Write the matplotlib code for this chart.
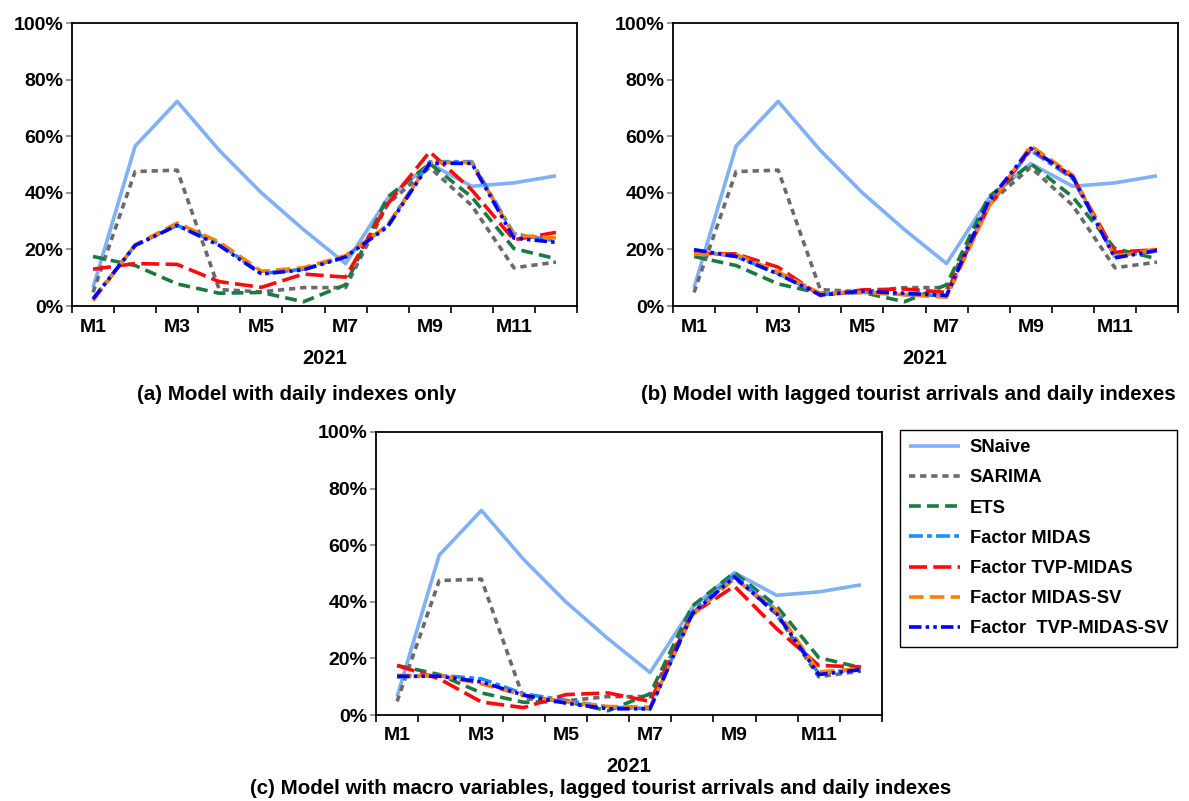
import matplotlib
matplotlib.use("Agg")
import matplotlib.pyplot as plt
import numpy as np

plt.rcParams['font.family'] = ['Liberation Sans', 'DejaVu Sans']
plt.rcParams['font.weight'] = 'bold'
plt.rcParams['lines.scale_dashes'] = False

# ---------------- data ----------------
months = ['M1', 'M2', 'M3', 'M4', 'M5', 'M6', 'M7', 'M8', 'M9', 'M10', 'M11', 'M12']
xtick_labels = ['M1', 'M3', 'M5', 'M7', 'M9', 'M11']
ytick_values = [0, 20, 40, 60, 80, 100]
year_label = '2021'

snaive = [6.5, 56.5, 72.3, 55.0, 40.0, 27.0, 15.0, 38.0, 50.3, 42.3, 43.5, 46.0]
sarima = [4.8, 47.5, 48.0, 5.8, 5.0, 6.5, 6.5, 36.0, 49.0, 35.5, 13.5, 15.5]
ets = [17.5, 14.3, 7.8, 4.5, 4.8, 1.5, 7.5, 38.5, 50.3, 38.5, 20.3, 16.7]

midas_a = [2.5, 21.5, 28.5, 22.0, 11.5, 13.0, 17.5, 28.5, 51.0, 51.0, 25.5, 23.0]
tvp_a = [13.0, 15.0, 14.7, 8.6, 6.6, 11.3, 10.2, 36.0, 54.5, 41.0, 23.4, 26.0]
sv_a = [1.9, 21.6, 29.3, 22.6, 12.3, 13.5, 17.8, 28.5, 50.7, 50.7, 25.0, 24.0]
tvpsv_a = [2.5, 21.4, 28.5, 21.4, 11.3, 12.8, 17.3, 28.0, 50.4, 50.4, 24.0, 22.5]

midas_b = [19.5, 17.5, 11.5, 4.0, 5.0, 4.0, 3.7, 36.0, 55.0, 45.0, 17.5, 19.5]
tvp_b = [18.7, 18.4, 13.7, 3.7, 5.7, 6.0, 4.8, 35.0, 55.7, 45.6, 19.0, 19.9]
sv_b = [18.4, 18.2, 12.0, 4.5, 4.8, 4.0, 3.1, 35.0, 56.6, 46.2, 17.3, 20.2]
tvpsv_b = [19.9, 17.5, 11.3, 3.9, 5.2, 4.5, 3.7, 37.0, 55.7, 45.6, 17.0, 19.6]

midas_c = [13.4, 14.0, 12.8, 7.5, 5.2, 2.8, 2.2, 36.4, 49.4, 37.0, 14.6, 16.4]
tvp_c = [17.5, 12.8, 4.6, 2.6, 7.2, 7.8, 4.8, 35.8, 45.5, 30.5, 17.5, 17.0]
sv_c = [14.0, 14.0, 11.0, 7.0, 4.6, 3.0, 2.8, 35.2, 48.2, 37.0, 15.2, 16.4]
tvpsv_c = [13.7, 13.7, 11.7, 7.0, 4.2, 2.2, 2.2, 35.8, 48.8, 35.8, 14.3, 16.0]

series_names = ['SNaive', 'SARIMA', 'ETS', 'Factor MIDAS', 'Factor TVP-MIDAS',
                'Factor MIDAS-SV', 'Factor  TVP-MIDAS-SV']

panels = [
    [snaive, sarima, ets, midas_a, tvp_a, sv_a, tvpsv_a],
    [snaive, sarima, ets, midas_b, tvp_b, sv_b, tvpsv_b],
    [snaive, sarima, ets, midas_c, tvp_c, sv_c, tvpsv_c],
]
captions = ['(a) Model with daily indexes only',
            '(b) Model with lagged tourist arrivals and daily indexes',
            '(c) Model with macro variables, lagged tourist arrivals and daily indexes']

# ---------------- styles ----------------
colors = ['#80B0F5', '#6A6A6A', '#1A7A40', '#1E8CFF', '#FF0A0A', '#FF8000', '#0000FF']
dashes = [None, (4.5, 3.5), (8.5, 4.5), (10, 3, 3.5, 3), (13, 4.5), (10.5, 4.5),
          (9, 3, 2.5, 3, 2.5, 3)]
lw = 2.6

W, H = 1189, 801
fig = plt.figure(figsize=(W / 100, H / 100), dpi=100)


def px(l, t, r, b):
    return [l / W, 1 - b / H, (r - l) / W, (b - t) / H]


rects = [px(72, 23, 577, 306), px(673, 23, 1178, 306), px(376, 432, 882, 715)]
year_pos = [(325, 358), (925, 358), (629, 767)]
cap_pos = [(297, 395), (908, 395), (601, 788)]

x = np.arange(len(months)) + 0.5
handles = []
for k, (rect, data) in enumerate(zip(rects, panels)):
    ax = fig.add_axes(rect)
    for i, (vals, c, d) in enumerate(zip(data, colors, dashes)):
        line, = ax.plot(x, vals, color=c, lw=lw, solid_capstyle='butt',
                        dash_capstyle='butt', label=series_names[i])
        if d is not None:
            line.set_dashes(d)
        if k == 0:
            handles.append(line)
    ax.set_xlim(0, 12)
    ax.set_ylim(0, 100)
    ax.set_xticks(x[::2])
    ax.set_xticklabels(xtick_labels)
    ax.set_xticks(np.arange(0, 13), minor=True)
    ax.tick_params(axis='x', which='major', length=0, pad=9, labelsize=14)
    ax.tick_params(axis='x', which='minor', length=5, width=1.2, direction='out', color='black')
    ax.set_yticks(ytick_values)
    ax.set_yticklabels([f'{v}%' for v in ytick_values])
    ax.tick_params(axis='y', length=4, width=1.2, color='#888888', pad=2, labelsize=14)
    for lab in ax.get_xticklabels() + ax.get_yticklabels():
        lab.set_fontweight('bold')
    for s in ax.spines.values():
        s.set_linewidth(1.3)
        s.set_color('black')
    fig.text(year_pos[k][0] / W, 1 - year_pos[k][1] / H, year_label, ha='center', va='center',
             fontsize=14.5, fontweight='bold')
    fig.text(cap_pos[k][0] / W, 1 - cap_pos[k][1] / H, captions[k], ha='center', va='center',
             fontsize=14.8, fontweight='bold')

leg = fig.legend(handles=handles, labels=series_names, loc='upper left',
                 bbox_to_anchor=(900 / W, 1 - 430 / H), bbox_transform=fig.transFigure,
                 frameon=True, fancybox=False, edgecolor='black', framealpha=1,
                 fontsize=13.2, handlelength=2.75, handletextpad=0.55,
                 labelspacing=0.72, borderpad=0.5, borderaxespad=0)
leg.get_frame().set_linewidth(1.0)
for t in leg.get_texts():
    t.set_fontweight('bold')

fig.savefig('out.png', dpi=100, facecolor='white')
